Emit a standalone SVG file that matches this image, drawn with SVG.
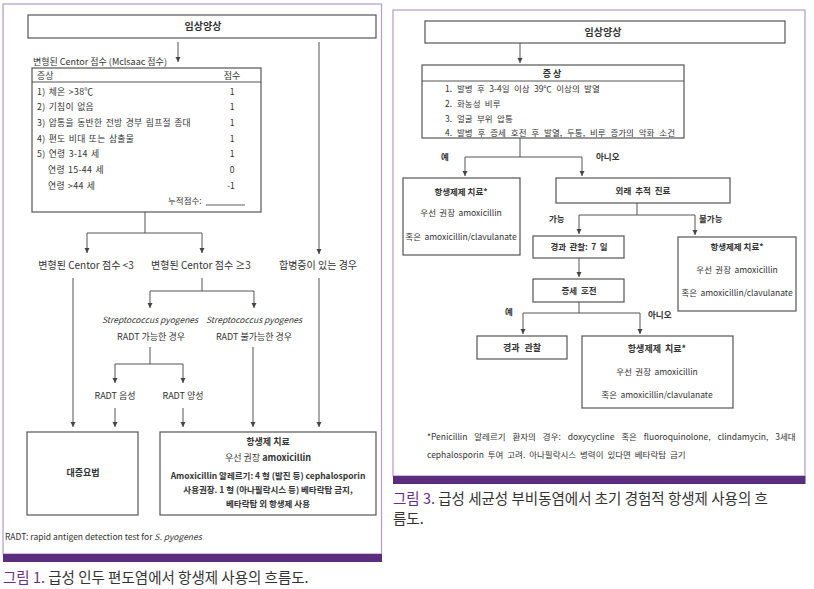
<svg xmlns="http://www.w3.org/2000/svg" width="814" height="589" viewBox="0 0 814 589">
<style>
text{font-family:"Noto Sans CJK KR","Noto Sans",sans-serif;fill:#333;}
.panel{fill:#fff;stroke:#b49ac8;stroke-width:1.2;}
.bar{fill:#5c2d7e;}
.box{fill:#fff;stroke:#555;stroke-width:1.2;}
.ln{fill:none;stroke:#555;stroke-width:1;}
.t9{font-size:9px;}
.t8{font-size:8.5px;}
.t10{font-size:10px;}
.tb{font-size:8.8px;letter-spacing:0.3px;word-spacing:1px;}
.b{font-weight:bold;}
.c{text-anchor:middle;}
.cap{font-size:14.5px;fill:#333;}
.capn{fill:#6b2d8c;}
</style>
<defs>
<marker id="ah" markerWidth="6" markerHeight="6" refX="5" refY="3" orient="auto" markerUnits="userSpaceOnUse">
<path d="M0,0.5 L5,3 L0,5.5 Z" fill="#444"/>
</marker>
</defs>

<!-- Left panel -->
<rect class="panel" x="3" y="4" width="378.5" height="550"/>
<rect class="bar" x="3" y="554" width="379" height="8"/>
<text class="cap" x="3" y="583"><tspan class="capn">그림 1.</tspan> 급성 인두 편도염에서 항생제 사용의 흐름도.</text>

<g id="L_clinical">
<rect class="box" x="28" y="15" width="348" height="23"/>
<text class="t10 b c" x="203" y="30">임상양상</text>
</g>

<g id="L_table">
<text class="t9" x="33" y="65">변형된 Centor 점수 (Mclsaac 점수)</text>
<rect class="box" x="32" y="68" width="229" height="144"/>
<line class="ln" x1="32" y1="82" x2="261" y2="82"/>
<text class="t9" x="37" y="79">증상</text>
<text class="t9 c" x="232" y="79">점수</text>
<text class="tb" x="37" y="95">1) 체온 &gt;38℃</text>
<text class="tb" x="37" y="110">2) 기침이 없음</text>
<text class="tb" x="37" y="126">3) 압통을 동반한 전방 경부 림프절 종대</text>
<text class="tb" x="37" y="142">4) 편도 비대 또는 삼출물</text>
<text class="tb" x="37" y="157">5) 연령 3-14 세</text>
<text class="tb" x="48" y="173">연령 15-44 세</text>
<text class="tb" x="48" y="189">연령 &gt;44 세</text>
<text class="t8 c" x="232" y="95">1</text>
<text class="t8 c" x="232" y="110">1</text>
<text class="t8 c" x="232" y="126">1</text>
<text class="t8 c" x="232" y="142">1</text>
<text class="t8 c" x="232" y="157">1</text>
<text class="t8 c" x="232" y="173">0</text>
<text class="t8 c" x="231" y="189">-1</text>
<text class="t8" x="168" y="204">누적점수:</text>
<line x1="206" y1="205" x2="245" y2="205" stroke="#333" stroke-width="0.8"/>
</g>

<g id="L_lt3"><text class="t10 c" x="86" y="269">변형된 Centor 점수 &lt;3</text></g>
<g id="L_ge3"><text class="t10 c" x="201" y="269">변형된 Centor 점수 ≥3</text></g>
<g id="L_comp"><text class="t10 c" x="318" y="269">합병증이 있는 경우</text></g>

<g id="L_radt_yes">
<text class="t8 c" x="150" y="323" font-style="italic">Streptococcus pyogenes</text>
<text class="t9 c" x="151" y="340">RADT 가능한 경우</text>
</g>
<g id="L_radt_no">
<text class="t8 c" x="254" y="323" font-style="italic">Streptococcus pyogenes</text>
<text class="t9 c" x="254" y="340">RADT 불가능한 경우</text>
</g>
<g id="L_neg"><text class="t9 c" x="115" y="399">RADT 음성</text></g>
<g id="L_pos"><text class="t9 c" x="183" y="399">RADT 양성</text></g>

<g id="L_symp">
<rect class="box" x="27" y="432" width="111" height="83"/>
<text class="t9 b c" x="83" y="476">대증요법</text>
</g>

<g id="L_abx">
<rect class="box" x="160" y="432" width="216" height="83"/>
<text class="t9 b c" x="268" y="445">항생제 치료</text>
<text class="t9 c" x="268" y="461">우선 권장 <tspan font-weight="bold">amoxicillin</tspan></text>
<text class="t8 b c" x="268" y="479">Amoxicillin 알레르기: 4 형 (발진 등) cephalosporin</text>
<text class="t8 b c" x="268" y="493">사용권장. 1 형 (아나필락시스 등) 베타락탐 금지,</text>
<text class="t8 b c" x="268" y="507">베타락탐 외 항생제 사용</text>
</g>

<g id="L_note">
<text class="t8" x="5" y="540">RADT: rapid antigen detection test for <tspan font-style="italic">S. pyogenes</tspan></text>
</g>

<g id="L_connectors">
<path class="ln" d="M178,42 V62" marker-end="url(#ah)"/>
<path class="ln" d="M319,42 V254" marker-end="url(#ah)"/>
<path class="ln" d="M319,278 V427" marker-end="url(#ah)"/>
<path class="ln" d="M145,212 V233 M87,233 H202"/>
<path class="ln" d="M87,233 V253" marker-end="url(#ah)"/>
<path class="ln" d="M202,233 V253" marker-end="url(#ah)"/>
<path class="ln" d="M73,278 V427" marker-end="url(#ah)"/>
<path class="ln" d="M202,278 V291 M150,291 H254"/>
<path class="ln" d="M150,291 V308" marker-end="url(#ah)"/>
<path class="ln" d="M254,291 V308" marker-end="url(#ah)"/>
<path class="ln" d="M150,347 V364 M115,364 H183"/>
<path class="ln" d="M115,364 V383" marker-end="url(#ah)"/>
<path class="ln" d="M183,364 V383" marker-end="url(#ah)"/>
<path class="ln" d="M115,408 V427" marker-end="url(#ah)"/>
<path class="ln" d="M183,408 V427" marker-end="url(#ah)"/>
<path class="ln" d="M253,347 V427" marker-end="url(#ah)"/>
</g>

<!-- Right panel -->
<rect class="panel" x="393" y="10" width="412" height="466"/>
<rect class="bar" x="393" y="476" width="412.5" height="8"/>
<text class="cap" font-size="15px" x="393" y="504"><tspan class="capn">그림 3.</tspan> 급성 세균성 부비동염에서 초기 경험적 항생제 사용의 흐</text>
<text class="cap" font-size="15px" x="393" y="524">름도.</text>

<g id="R_clinical">
<rect class="box" x="425" y="21" width="360" height="22"/>
<text class="t10 b c" x="603" y="36">임상양상</text>
</g>

<g id="R_symptoms">
<rect class="box" x="422" y="65" width="262" height="73"/>
<line class="ln" x1="422" y1="81" x2="684" y2="81"/>
<text class="t9 b c" x="552" y="77">증 상</text>
<text class="t8" x="445" y="92">1.</text><text class="t8" x="457" y="92" word-spacing="2.5">발병 후 3-4일 이상 39℃ 이상의 발열</text>
<text class="t8" x="445" y="107">2.</text><text class="t8" x="457" y="107" word-spacing="2.5">화농성 비루</text>
<text class="t8" x="445" y="122">3.</text><text class="t8" x="457" y="122" word-spacing="2.5">얼굴 부위 압통</text>
<text class="t8" x="445" y="136">4.</text><text class="t8" x="457" y="136" word-spacing="3">발병 후 증세 호전 후 발열, 두통, 비루 증가의 악화 소건</text>
</g>

<g id="R_yes1"><text class="t8 b" x="441" y="160">예</text></g>
<g id="R_no1"><text class="t8 b" x="596" y="160">아니오</text></g>

<g id="R_abx1">
<rect class="box" x="403" y="178" width="117" height="77"/>
<text class="t8 b c" x="461" y="195">항생제제 치료*</text>
<text class="t8 c" x="461" y="216" word-spacing="1.5">우선 권장 amoxicillin</text>
<text class="t8 c" x="461" y="240" word-spacing="1.5">혹은 amoxicillin/clavulanate</text>
</g>

<g id="R_followup">
<rect class="box" x="556" y="178" width="174" height="25"/>
<text class="t8 b c" x="643" y="194" word-spacing="2">외래 추적 진료</text>
</g>

<g id="R_possible"><text class="t8 b" x="549" y="222">가능</text></g>
<g id="R_impossible"><text class="t8 b" x="699" y="222">불가능</text></g>

<g id="R_observe7">
<rect class="box" x="533" y="236" width="91" height="22"/>
<text class="t8 b c" x="579" y="250" word-spacing="1.5">경과 관찰: 7 일</text>
</g>

<g id="R_improve">
<rect class="box" x="533" y="279" width="91" height="23"/>
<text class="t8 b c" x="579" y="294" word-spacing="2">증세 호전</text>
</g>

<g id="R_abx2">
<rect class="box" x="678" y="237" width="118" height="74"/>
<text class="t8 b c" x="737" y="250">항생제제 치료*</text>
<text class="t8 c" x="737" y="273" word-spacing="1.5">우선 권장 amoxicillin</text>
<text class="t8 c" x="737" y="296" word-spacing="1.5">혹은 amoxicillin/clavulanate</text>
</g>

<g id="R_yes2"><text class="t8 b" x="505" y="315">예</text></g>
<g id="R_no2"><text class="t8 b" x="648" y="318">아니오</text></g>

<g id="R_observe">
<rect class="box" x="477" y="336" width="90" height="23"/>
<text class="t9 b c" x="522" y="351" word-spacing="3">경과 관찰</text>
</g>

<g id="R_abx3">
<rect class="box" x="582" y="336" width="151" height="72"/>
<text class="t9 b c" x="657" y="352" word-spacing="2">항생제제 치료*</text>
<text class="t8 c" x="657" y="375" word-spacing="1.5">우선 권장 amoxicillin</text>
<text class="t8 c" x="657" y="398" word-spacing="1.5">혹은 amoxicillin/clavulanate</text>
</g>

<g id="R_note">
<text class="t8" x="427" y="440" word-spacing="5">*Penicillin 알레르기 환자의 경우: doxycycline 혹은 fluoroquinolone, clindamycin, 3세대</text>
<text class="t8" x="427" y="458" word-spacing="2">cephalosporin 투여 고려. 아나필락시스 병력이 있다면 베타락탐 금기</text>
</g>

<g id="R_connectors">
<path class="ln" d="M520,43 V63" marker-end="url(#ah)"/>
<path class="ln" d="M520,138 V157 M465,157 H582"/>
<path class="ln" d="M465,157 V176" marker-end="url(#ah)"/>
<path class="ln" d="M582,157 V176" marker-end="url(#ah)"/>
<path class="ln" d="M637,203 V215 M579,215 H695"/>
<path class="ln" d="M579,215 V234" marker-end="url(#ah)"/>
<path class="ln" d="M695,215 V235" marker-end="url(#ah)"/>
<path class="ln" d="M579,258 V277" marker-end="url(#ah)"/>
<path class="ln" d="M579,302 V313 M523,313 H640"/>
<path class="ln" d="M523,313 V334" marker-end="url(#ah)"/>
<path class="ln" d="M640,313 V334" marker-end="url(#ah)"/>
</g>
</svg>
